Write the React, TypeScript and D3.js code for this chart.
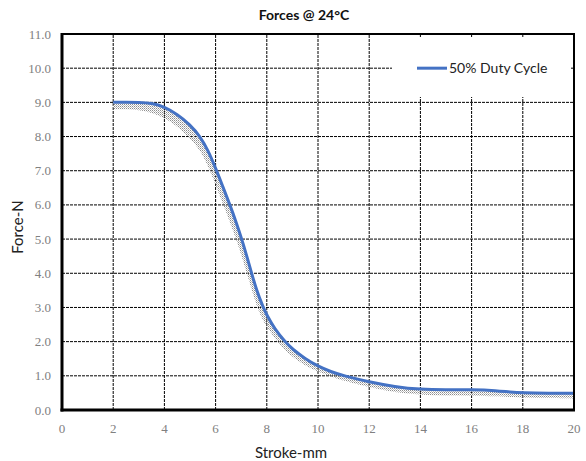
import * as d3 from 'd3';

// Stroke (mm) vs force (N)
const strokeMm = [2.0, 2.5, 3.0, 3.5, 4.0, 4.5, 5.0, 5.4, 5.7, 6.0, 6.3, 6.56, 6.8, 7.0, 7.2, 7.38, 7.6, 7.86, 8.0, 8.3, 8.71, 9.0, 9.5, 10.0, 10.5, 11.0, 12.0, 13.0, 14.0, 15.0, 16.0, 17.0, 17.5, 18.0, 19.0, 20.0];
const forceN = [9.0, 9.0, 9.0, 8.98, 8.87, 8.65, 8.35, 8.0, 7.6, 7.08, 6.5, 6.0, 5.5, 5.05, 4.55, 4.07, 3.5, 3.0, 2.78, 2.38, 2.0, 1.78, 1.5, 1.28, 1.12, 1.0, 0.82, 0.68, 0.6, 0.59, 0.6, 0.57, 0.52, 0.5, 0.49, 0.49];
// lower edge of the grey raw-sample band under the line
const rawLow = [8.8, 8.8, 8.78, 8.7, 8.55, 8.3, 7.95, 7.6, 7.15, 6.6, 6.0, 5.5, 5.0, 4.55, 4.05, 3.6, 3.05, 2.6, 2.45, 2.1, 1.75, 1.55, 1.3, 1.12, 0.98, 0.86, 0.66, 0.52, 0.44, 0.42, 0.42, 0.4, 0.38, 0.36, 0.35, 0.34];

const xTicks = [0, 2, 4, 6, 8, 10, 12, 14, 16, 18, 20];
const yTicks = [0, 1, 2, 3, 4, 5, 6, 7, 8, 9, 10, 11];

const seriesName = '50% Duty Cycle';
const title = 'Forces @ 24°C';

const W = 586;
const H = 461;
const margin = { top: 34, right: 12, bottom: 51, left: 62 };
const sans = 'Lato, "Open Sans", sans-serif';
const serif = '"Liberation Serif", serif';

export default function App() {
  const x = d3.scaleLinear().domain([0, 20]).range([margin.left, W - margin.right]);
  const y = d3.scaleLinear().domain([0, 11]).range([H - margin.bottom, margin.top]);

  const pts = strokeMm.map((s, i) => ({ s, f: forceN[i], lo: rawLow[i] }));

  const line = d3.line<typeof pts[number]>()
    .x(d => x(d.s))
    .y(d => y(d.f))
    .curve(d3.curveBasis);

  const band = d3.area<typeof pts[number]>()
    .x(d => x(d.s))
    .y0(d => y(d.lo))
    .y1(d => y(d.f))
    .curve(d3.curveBasis);

  const [x0, x1] = x.range();
  const [y0, y1] = y.range();

  return (
    <svg width={W} height={H} style={{ position: 'absolute', left: 0, top: 0, background: '#fff' }}>
      <defs>
        <pattern id="dots" width="2" height="2" patternUnits="userSpaceOnUse">
          <rect x="0" y="0" width="1" height="1" fill="#666" />
          <rect x="1" y="1" width="1" height="1" fill="#aaa" />
        </pattern>
      </defs>

      <text x={304} y={20} textAnchor="middle" fontFamily={sans} fontWeight={700} fontSize={14} fill="#111">
        {title}
      </text>

      {/* Gridlines */}
      {yTicks.slice(1, -1).map(t => (
        <line key={'gy' + t} x1={x0} x2={x1} y1={y(t)} y2={y(t)} stroke="#000" strokeWidth={1} strokeDasharray="3,1" />
      ))}
      {xTicks.slice(1, -1).map(t => (
        <line key={'gx' + t} x1={x(t)} x2={x(t)} y1={y0} y2={y1} stroke="#000" strokeWidth={1} strokeDasharray="3,1" />
      ))}

      {/* Legend box (white, hides grid) */}
      <rect x={392} y={37} width={179} height={60} fill="#fff" />
      <line x1={417} x2={447} y1={y(10)} y2={y(10)} stroke="#4472C4" strokeWidth={3} />
      <text x={449} y={y(10)} dy="0.35em" fontFamily={sans} fontSize={14} fill="#222">{seriesName}</text>

      {/* Raw sample band + mean curve */}
      <path d={band(pts) ?? ''} fill="url(#dots)" opacity={0.75} />
      <path d={line(pts) ?? ''} fill="none" stroke="#4472C4" strokeWidth={3} />

      {/* Frame */}
      <rect x={x0} y={y1} width={x1 - x0} height={y0 - y1} fill="none" stroke="#000" strokeWidth={2} />
      <line x1={x0} x2={x0} y1={y1 - 1} y2={y0 + 1.5} stroke="#000" strokeWidth={3} />
      <line x1={x0 - 1.5} x2={x1 + 1} y1={y0} y2={y0} stroke="#000" strokeWidth={3} />

      {/* Tick labels */}
      {yTicks.map(t => (
        <text key={'ly' + t} x={51} y={y(t)} dy="0.35em" textAnchor="end" fontFamily={serif} fontSize={13} fill="#808080">
          {t.toFixed(1)}
        </text>
      ))}
      {xTicks.map(t => (
        <text key={'lx' + t} x={x(t)} y={428} dy="0.35em" textAnchor="middle" fontFamily={serif} fontSize={13} fill="#808080">
          {t}
        </text>
      ))}

      {/* Axis titles */}
      <text x={291} y={453} dy="0.35em" textAnchor="middle" fontFamily={sans} fontSize={15} fill="#222">Stroke-mm</text>
      <text transform={`translate(18,227) rotate(-90)`} dy="0.35em" textAnchor="middle" fontFamily={sans} fontSize={15} fill="#222">Force-N</text>
    </svg>
  );
}
